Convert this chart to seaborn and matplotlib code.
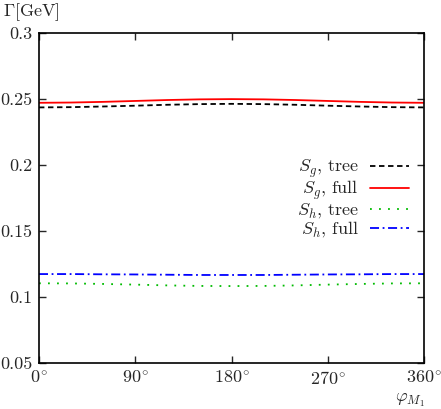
import numpy as np
import pandas as pd
import matplotlib
matplotlib.use("Agg")
import matplotlib.pyplot as plt
import seaborn as sns

# Data
phi = [0, 30, 60, 90, 120, 150, 180, 210, 240, 270, 300, 330, 360]
sg_tree = [0.2437, 0.2439, 0.2444, 0.2450, 0.2457, 0.2462, 0.2464,
           0.2462, 0.2457, 0.2450, 0.2444, 0.2439, 0.2437]
sg_full = [0.2472, 0.2474, 0.2479, 0.2486, 0.2493, 0.2498, 0.2500,
           0.2498, 0.2493, 0.2486, 0.2479, 0.2474, 0.2472]
sh_tree = [0.1104, 0.1103, 0.1099, 0.1094, 0.1088, 0.1084, 0.1083,
           0.1084, 0.1088, 0.1094, 0.1099, 0.1103, 0.1104]
sh_full = [0.1174, 0.1174, 0.1172, 0.1171, 0.1169, 0.1167, 0.1167,
           0.1167, 0.1169, 0.1171, 0.1172, 0.1174, 0.1174]
labels = [r"$S_g$, tree", r"$S_g$, full", r"$S_h$, tree", r"$S_h$, full"]
xticks = [0, 90, 180, 270, 360]
xticklabels = [r"$0^{\!\circ}$", r"$90^{\!\circ}$", r"$180^{\!\circ}$", r"$270^{\!\circ}$", r"$360^{\!\circ}$"]
yticks = [0.05, 0.1, 0.15, 0.2, 0.25, 0.3]
yticklabels = ["0.05", "0.1", "0.15", "0.2", "0.25", "0.3"]

sns.set_style("white")
plt.rcParams["font.family"] = ["cmr10", "DejaVu Serif"]
plt.rcParams["mathtext.fontset"] = "cm"
plt.rcParams["axes.formatter.use_mathtext"] = True

rows = []
for lab, vals in zip(labels, [sg_tree, sg_full, sh_tree, sh_full]):
    for p, v in zip(phi, vals):
        rows.append({"phi": p, "Gamma": v, "series": lab})
df = pd.DataFrame(rows)

fig = plt.figure(figsize=(4.41, 4.09), dpi=100)
ax = fig.add_axes([0.0884, 0.1125, 0.8731, 0.8065])

colors = {labels[0]: "black", labels[1]: "#ff0000", labels[2]: "#00bb00", labels[3]: "#0000ff"}
styles = {labels[0]: (0, (3, 2)), labels[1]: "-", labels[2]: (0, (1, 4)), labels[3]: (0, (5, 2, 1, 2))}

for lab in labels:
    sub = df[df["series"] == lab]
    sns.lineplot(data=sub, x="phi", y="Gamma", ax=ax, color=colors[lab],
                 linestyle=styles[lab], linewidth=1.3, label=lab)

ax.set_xlim(0, 360)
ax.set_ylim(0.05, 0.3)
ax.set_xticks(xticks)
ax.set_xticklabels(xticklabels, fontsize=13)
ax.set_yticks(yticks)
ax.set_yticklabels(yticklabels, fontsize=13)
ax.tick_params(direction="in", length=5, width=1, top=True, right=True,
               bottom=True, left=True, pad=5)
for s in ax.spines.values():
    s.set_linewidth(1.2)
    s.set_color("black")
ax.set_xlabel("")
ax.set_ylabel("")

fig.text(0.007, 0.97, r"$\Gamma$[GeV]", fontsize=13, ha="left", va="center")
fig.text(0.895, 0.022, r"$\varphi_{M_1}$", fontsize=13, ha="left", va="center")

leg = ax.legend(loc="upper right", bbox_to_anchor=(0.99, 0.655), frameon=False,
                markerfirst=False, fontsize=13, handlelength=2.2,
                labelspacing=-0.05, handletextpad=0.6, borderaxespad=0.2)
for t in leg.get_texts():
    t.set_ha("right")

fig.savefig("out.png", dpi=100)
